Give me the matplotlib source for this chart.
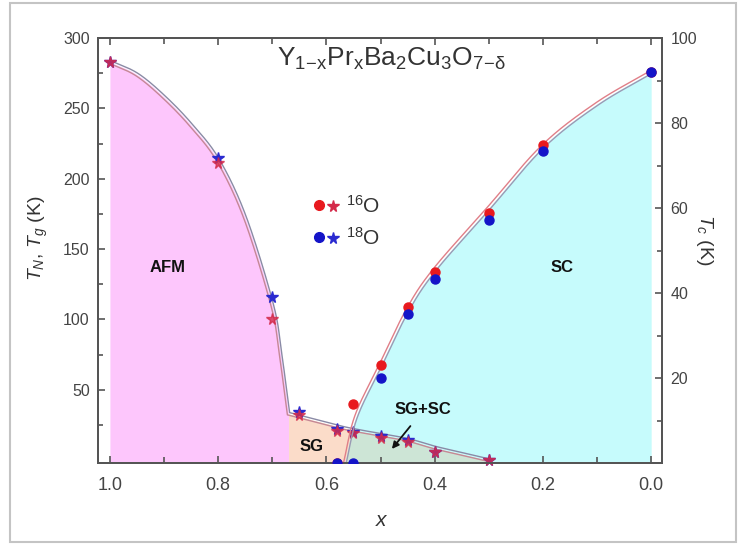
import numpy as np
import matplotlib
matplotlib.use("Agg")
import matplotlib.pyplot as plt
from matplotlib.transforms import offset_copy
from matplotlib.patches import Rectangle

plt.rcParams['font.family'] = ['Liberation Sans', 'DejaVu Sans']
plt.rcParams['mathtext.fontset'] = 'custom'
plt.rcParams['mathtext.rm'] = 'Liberation Sans'
plt.rcParams['mathtext.it'] = 'Liberation Sans:italic'
plt.rcParams['mathtext.bf'] = 'Liberation Sans:bold'

# ---- measured points ----
# Neel / spin-glass temperatures (left axis, K)
x_star = [1.0, 0.8, 0.7, 0.65, 0.58, 0.55, 0.5, 0.45, 0.4, 0.3]
tn_16 = [283, 211, 100, 32, 21, 19, 16, 13, 5.5, 0]
tn_18 = [283, 215, 116, 34, 22, 20, 17, 14.5, 6, 0]

# superconducting Tc (right axis, K)
x_c16 = [0.0, 0.2, 0.3, 0.4, 0.45, 0.5, 0.55, 0.58]
tc_16 = [92, 74.8, 58.8, 45, 36.7, 23, 14, 0]
x_c18 = [0.0, 0.2, 0.3, 0.4, 0.45, 0.5, 0.55, 0.58]
tc_18 = [92, 73.5, 57.2, 43.3, 35, 20, 0, 0]

# phase boundaries (guide curves)
afm_x = [1.0, 0.95, 0.9, 0.85, 0.8, 0.75, 0.7, 0.685, 0.67]
afm_t = [283, 274, 258, 238, 213, 172, 110, 76, 33]
sg_x = [0.67, 0.65, 0.58, 0.55, 0.5, 0.45, 0.4, 0.35, 0.3]
sg_t = [33, 31, 24, 21.5, 18, 14.5, 9, 4.5, 0]
sc_x = [0.566, 0.545, 0.5, 0.45, 0.4, 0.3, 0.2, 0.1, 0.0]
sc_t = [0, 11, 23, 36, 45.5, 60, 74.5, 84.5, 92]

x_ticks = [1.0, 0.8, 0.6, 0.4, 0.2, 0.0]
x_minor = [0.9, 0.7, 0.5, 0.3, 0.1]
left_ticks = [50, 100, 150, 200, 250, 300]
left_minor = [25, 75, 125, 175, 225, 275]
right_ticks = [20, 40, 60, 80, 100]
right_minor = [10, 30, 50, 70, 90]

L_LO, L_HI = -2.0, 300.0
R_LO, R_HI = 0.0, 100.0


def to_left(t):
    t = np.asarray(t, float)
    return L_LO + (t - R_LO) * (L_HI - L_LO) / (R_HI - R_LO)


def catmull_rom(xp, yp, n=40):
    P = np.column_stack([xp, yp]).astype(float)
    P = np.vstack([2 * P[0] - P[1], P, 2 * P[-1] - P[-2]])
    t = np.linspace(0, 1, n, endpoint=False)[:, None]
    out = []
    for i in range(1, len(P) - 2):
        p0, p1, p2, p3 = P[i - 1], P[i], P[i + 1], P[i + 2]
        seg = 0.5 * (2 * p1 + (-p0 + p2) * t
                     + (2 * p0 - 5 * p1 + 4 * p2 - p3) * t ** 2
                     + (-p0 + 3 * p1 - 3 * p2 + p3) * t ** 3)
        out.append(seg)
    out.append(P[-2][None, :])
    a = np.vstack(out)
    return a[:, 0], a[:, 1]


W, H = 739, 545
fig = plt.figure(figsize=(W / 100, H / 100), dpi=100)
ax = fig.add_axes([98 / W, 1 - 463 / H, (662 - 98) / W, (463 - 38) / H])
ax2 = ax.twinx()

ax.set_xlim(1.022, -0.020)
ax.set_ylim(L_LO, L_HI)
ax2.set_ylim(R_LO, R_HI)

# smooth boundaries
ax_n, at_n = catmull_rom(afm_x, afm_t)
gx, gt = catmull_rom(sg_x, sg_t)
cx, ct = catmull_rom(sc_x, sc_t)

# ---- phase region fills ----
pink = '#fdc6fc'
peach = '#fbdcc9'
green = '#cde5d6'
cyan = '#c6fbfc'

ax.fill_between(ax_n, L_LO, at_n, color=pink, lw=0, zorder=0)

xg = np.linspace(0.0, 0.67, 1500)
order_g = np.argsort(gx)
tg = np.interp(xg, gx[order_g], gt[order_g], left=L_LO, right=L_LO)
tg = np.where(xg < 0.3, L_LO, tg)
order_c = np.argsort(cx)
tc = np.interp(xg, cx[order_c], to_left(ct)[order_c], left=to_left(92), right=L_LO)

ax.fill_between(xg, tc, tg, where=tg > tc, interpolate=True, color=peach, lw=0, zorder=0)
ax.fill_between(xg, L_LO, np.minimum(tc, tg), color=green, lw=0, zorder=0)
ax.fill_between(xg, tg, tc, where=tc > tg, interpolate=True, color=cyan, lw=0, zorder=0)

# ---- boundary lines (one per isotope) ----
line_x = np.concatenate([ax_n, gx])
line_t = np.concatenate([at_n, gt])
tr16 = offset_copy(ax.transData, fig=fig, x=-0.8, y=-0.8, units='points')
tr18 = offset_copy(ax.transData, fig=fig, x=0.8, y=0.8, units='points')
ax.plot(line_x, line_t, color='#c58895', lw=1.0, transform=tr16, zorder=2)
ax.plot(line_x, line_t, color='#8a8aa6', lw=1.0, transform=tr18, zorder=2)

trc16 = offset_copy(ax2.transData, fig=fig, x=-0.8, y=0.8, units='points')
trc18 = offset_copy(ax2.transData, fig=fig, x=0.8, y=-0.8, units='points')
ax2.plot(cx, ct, color='#e07f88', lw=1.0, transform=trc16, zorder=2)
ax2.plot(cx, ct, color='#9a9ab4', lw=1.0, transform=trc18, zorder=2)

# ---- data markers ----
star_red = '#d42a4a'
star_blue = '#2a2ad0'
dot_red = '#e8191e'
dot_blue = '#1414c8'
ax.plot(x_star, tn_18, '*', ms=8.5, color=star_blue, mec=star_blue, zorder=4, clip_on=False)
ax.plot(x_star, tn_16, '*', ms=8.5, color=star_red, mec=star_red, alpha=0.8, zorder=5, clip_on=False)
ax2.plot(x_c16, tc_16, 'o', ms=6.5, color=dot_red, mec=dot_red, zorder=4)
ax2.plot(x_c18, tc_18, 'o', ms=6.5, color=dot_blue, mec=dot_blue, zorder=5)

# ---- legend ----
ax.plot([0.392], [0.607], 'o', ms=7, color=dot_red, transform=ax.transAxes, clip_on=False)
ax.plot([0.417], [0.605], '*', ms=8.5, color=star_red, transform=ax.transAxes, clip_on=False)
ax.plot([0.392], [0.532], 'o', ms=7, color=dot_blue, transform=ax.transAxes, clip_on=False)
ax.plot([0.417], [0.530], '*', ms=8.5, color=star_blue, transform=ax.transAxes, clip_on=False)
ax.text(0.44, 0.605, r'$\mathregular{^{16}O}$', transform=ax.transAxes, fontsize=15,
        color='#333333', va='center', ha='left')
ax.text(0.44, 0.530, r'$\mathregular{^{18}O}$', transform=ax.transAxes, fontsize=15,
        color='#333333', va='center', ha='left')

# ---- text labels ----
ax.text(0.52, 0.934, r'$\mathregular{Y_{1\!-\!x}Pr_xBa_2Cu_3O_{7\!-\!\delta}}$',
        transform=ax.transAxes, fontsize=19, color='#333333', ha='center', va='baseline')
ax.text(0.124, 0.459, 'AFM', transform=ax.transAxes, fontsize=12, fontweight='bold',
        ha='center', va='center', color='#111111')
ax.text(0.823, 0.459, 'SC', transform=ax.transAxes, fontsize=12, fontweight='bold',
        ha='center', va='center', color='#111111')
ax.text(0.379, 0.038, 'SG', transform=ax.transAxes, fontsize=12, fontweight='bold',
        ha='center', va='center', color='#111111', zorder=6)
ax.text(0.576, 0.125, 'SG+SC', transform=ax.transAxes, fontsize=12, fontweight='bold',
        ha='center', va='center', color='#111111', zorder=6)
ax.annotate('', xy=(0.518, 0.028), xytext=(0.557, 0.092), xycoords='axes fraction',
            arrowprops=dict(arrowstyle='-|>', color='#111111', lw=1.3, mutation_scale=10),
            zorder=6)

# ---- axes styling ----
spine_c = '#555555'
for a in (ax, ax2):
    for s in a.spines.values():
        s.set_color(spine_c)
        s.set_linewidth(1.4)

ax.set_xticks(x_ticks)
ax.set_xticklabels([f'{v:.1f}' for v in x_ticks])
ax.set_xticks(x_minor, minor=True)
ax.set_yticks(left_ticks)
ax.set_yticks(left_minor, minor=True)
ax2.set_yticks(right_ticks)
ax2.set_yticks(right_minor, minor=True)

ax.tick_params(axis='x', which='both', direction='in', top=True, bottom=True,
               labelsize=13, labelcolor='#444444', color=spine_c, pad=10)
ax.tick_params(axis='x', which='major', length=5, width=1.2)
ax.tick_params(axis='x', which='minor', length=4, width=1.2)
ax.tick_params(axis='y', which='both', direction='in', left=True, right=False,
               labelsize=11.5, labelcolor='#444444', color=spine_c, pad=6)
ax.tick_params(axis='y', which='major', length=5, width=1.2)
ax.tick_params(axis='y', which='minor', length=3.5, width=1.2)
ax2.tick_params(axis='y', which='both', direction='in', right=True, left=False,
                labelsize=11.5, labelcolor='#444444', color=spine_c, pad=6)
ax2.tick_params(axis='y', which='major', length=5, width=1.2)
ax2.tick_params(axis='y', which='minor', length=3.5, width=1.2)

fig.text(38 / W, 1 - 238 / H, r'$T_{N}$, $T_{g}$ (K)', rotation=90, fontsize=14,
         color='#333333', ha='center', va='center')
fig.text(704 / W, 1 - 240 / H, r'$T_{c}$ (K)', rotation=270, fontsize=14,
         color='#333333', ha='center', va='center')
fig.text(382 / W, 1 - 520 / H, r'$x$', fontsize=15, color='#333333', ha='center', va='center')

fig.patches.append(Rectangle((10 / W, 3 / H), (736 - 10) / W, (542 - 3) / H,
                             transform=fig.transFigure, fill=False,
                             ec='#c4c4c4', lw=1.5))

fig.savefig('out.png', dpi=100)
